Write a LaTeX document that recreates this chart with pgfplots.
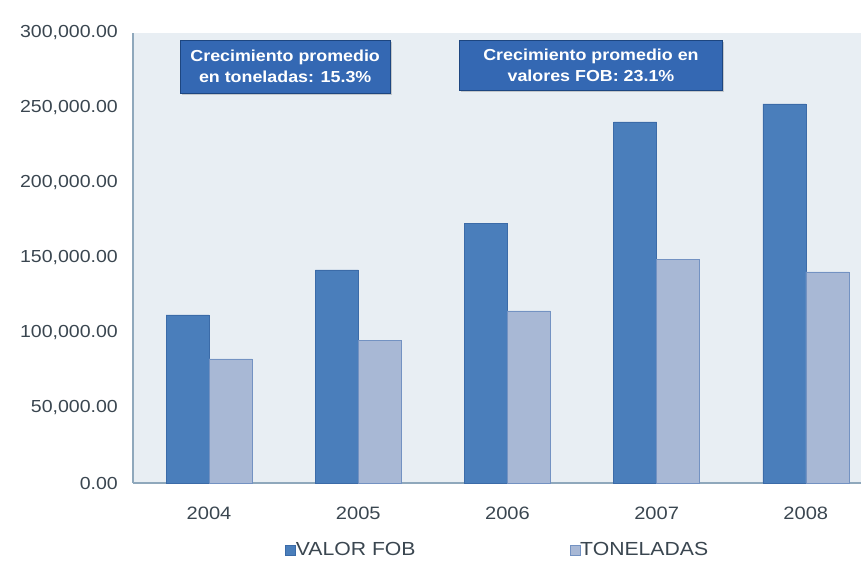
\documentclass[border=0pt]{standalone}
\usepackage{fontspec}
\setmainfont[FakeStretch=1.12]{Liberation Sans}
\usepackage{pgfplots}
\pgfplotsset{compat=1.18}
\usetikzlibrary{shadows}
\definecolor{fob}{HTML}{4A7EBB}
\definecolor{fobedge}{HTML}{3B6BA8}
\definecolor{ton}{HTML}{A8B8D5}
\definecolor{tonedge}{HTML}{7392C2}
\definecolor{plotbg}{HTML}{E8EEF3}
\definecolor{axcol}{HTML}{8FA8BC}
\definecolor{txt}{HTML}{3A4650}
\definecolor{boxc}{HTML}{3468B3}
\definecolor{boxedge}{HTML}{1D4680}
\begin{document}
\begin{tikzpicture}
\path[use as bounding box] (0bp,0bp) rectangle (861bp,562bp);
\begin{axis}[
  at={(133bp,79bp)}, anchor=south west,
  scale only axis, width=728bp, height=450bp,
  ymin=0, ymax=300000, xmin=-0.51, xmax=4.37,
  ybar=0pt, bar width=43bp,
  axis background/.style={fill=plotbg},
  axis x line*=bottom, axis y line*=left,
  axis line style={axcol, line width=1.5bp, -},
  major tick length=0pt,
  xtick={0,1,2,3,4},
  xticklabels={2004,2005,2006,2007,2008},
  ytick={0,50000,100000,150000,200000,250000,300000},
  scaled y ticks=false,
  /pgf/number format/assume math mode=true,
  /pgf/number format/fixed,
  /pgf/number format/fixed zerofill,
  /pgf/number format/precision=2,
  /pgf/number format/1000 sep={,},
  y tick label style={font=\fontsize{17.5}{19}\selectfont, text=txt, inner sep=0pt, xshift=-15bp},
  x tick label style={font=\fontsize{18}{20}\selectfont, text=txt, inner sep=0pt, yshift=-24bp},
  legend style={draw=none, fill=none, at={(0.501,-0.149)}, anchor=center,
    legend columns=2, font=\fontsize{19}{21}\selectfont, text=txt,
    /tikz/every even column/.append style={column sep=152bp},
    /tikz/every odd column/.append style={column sep=-2bp},
    legend cell align=left},
  legend image code/.code={\draw[#1] (0bp,-5bp) rectangle (10bp,5bp);},
]
\addplot[fill=fob, draw=fobedge, line width=0.6bp] coordinates {(0,112000) (1,142000) (2,173300) (3,240700) (4,252700)};
\addlegendentry{VALOR FOB}
\addplot[fill=ton, draw=tonedge, line width=0.6bp] coordinates {(0,82700) (1,95300) (2,114700) (3,149300) (4,140700)};
\addlegendentry{TONELADAS}
\node[fill=boxc, draw=boxedge, text=white, align=center, minimum width=210bp, minimum height=53bp,
  inner sep=1bp, font=\bfseries\fontsize{16}{21}\selectfont,
  drop shadow={opacity=0.35, shadow xshift=2bp, shadow yshift=-2bp}]
  at (axis cs:0.51,277667) {Crecimiento promedio\\en toneladas: 15.3\%};
\node[fill=boxc, draw=boxedge, text=white, align=center, minimum width=263bp, minimum height=50bp,
  inner sep=1bp, font=\bfseries\fontsize{16}{21}\selectfont,
  drop shadow={opacity=0.35, shadow xshift=2bp, shadow yshift=-2bp}]
  at (axis cs:2.56,278667) {Crecimiento promedio en\\valores FOB: 23.1\%};
\end{axis}
\end{tikzpicture}
\end{document}
